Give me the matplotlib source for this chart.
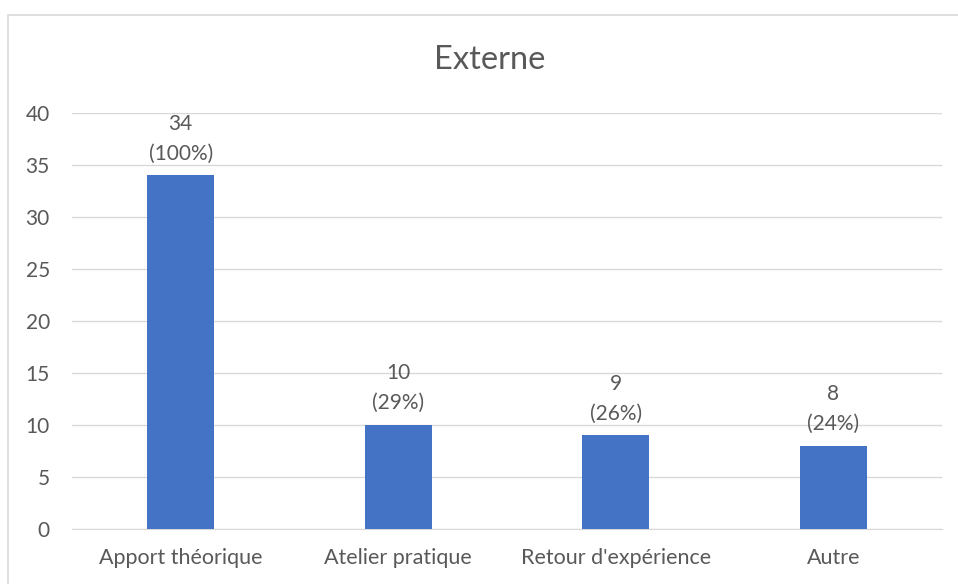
import matplotlib
matplotlib.use("Agg")
import matplotlib.pyplot as plt
from matplotlib.patches import Rectangle

categories = ['Apport théorique', 'Atelier pratique', "Retour d'expérience", 'Autre']
counts = [34, 10, 9, 8]
percents = ['100%', '29%', '26%', '24%']
y_ticks = [0, 5, 10, 15, 20, 25, 30, 35, 40]

plt.rcParams['font.family'] = ['Lato', 'DejaVu Sans']
text_col = '#595959'

fig = plt.figure(figsize=(9.58, 5.84), dpi=100)
# chart frame, only left and top edges visible in the crop
fig.patches.append(Rectangle((8 / 958, -0.1), 1.2, 1.1 - 15 / 584, transform=fig.transFigure,
                             fill=False, edgecolor='#D9D9D9', linewidth=1.2))

ax = fig.add_axes([72 / 958, 1 - 529 / 584, 870 / 958, 416 / 584])
x = range(len(categories))
bars = ax.bar(x, counts, width=0.31, color='#4472C4', zorder=3)

for b, c, p in zip(bars, counts, percents):
    ax.annotate(f'{c}\n({p})', (b.get_x() + b.get_width() / 2, c),
                xytext=(0, 12), textcoords='offset pixels', ha='center', va='bottom',
                fontsize=15, color=text_col, linespacing=1.6)

ax.set_xlim(-0.5, len(categories) - 0.5)
ax.set_ylim(0, 40)
ax.set_yticks(y_ticks)
ax.set_xticks(list(x))
ax.set_xticklabels(categories)
ax.grid(axis='y', color='#D9D9D9', linewidth=1, zorder=0)
for s in ax.spines.values():
    s.set_visible(False)
ax.spines['bottom'].set_visible(True)
ax.spines['bottom'].set_color('#D9D9D9')
ax.tick_params(length=0, labelsize=15, labelcolor=text_col)
ax.tick_params(axis='x', labelsize=15.5, pad=14)
ax.tick_params(axis='y', pad=16)
fig.text(490 / 958, 1 - 60 / 584, 'Externe', fontsize=23.5, color=text_col,
         ha='center', va='center')

fig.savefig('out.png', dpi=100)
